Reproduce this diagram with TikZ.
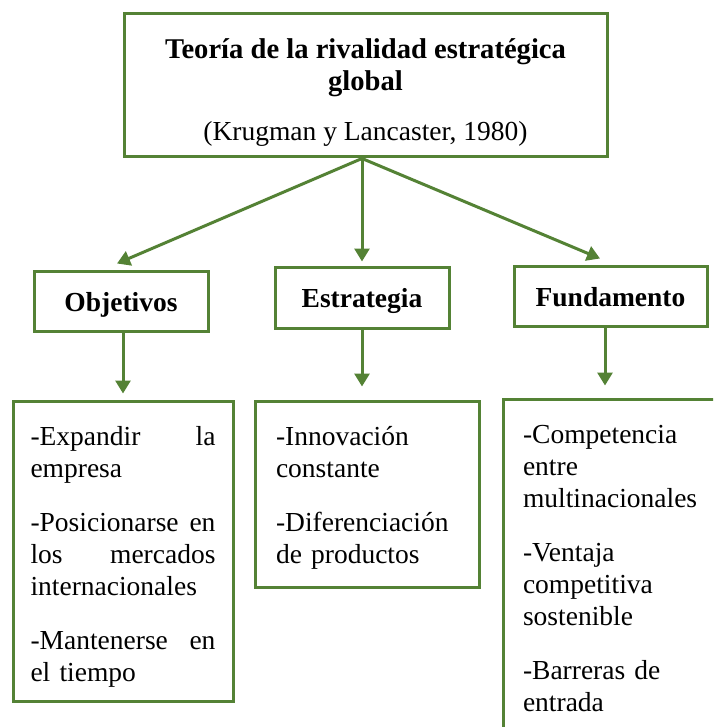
\documentclass[tikz,border=0pt]{standalone}
\usepackage{fontspec}
\setmainfont{Liberation Serif}
\usetikzlibrary{arrows.meta,positioning,calc}
\definecolor{boxgreen}{RGB}{84,130,53}
\newcommand{\fullline}[1]{\leavevmode\hbox to \hsize{#1}}
\newcommand{\titlefont}{\fontsize{14.3pt}{16pt}\selectfont\bfseries}

\begin{document}
\begin{tikzpicture}[x=0.5pt, y=-0.5pt, >={Triangle[length=6.5pt,width=7.5pt]},
  every node/.style={font=\fontsize{13.75pt}{16pt}\selectfont},
  box/.style={draw=boxgreen, line width=1.5pt, inner sep=0pt},
  title/.style={box, align=center, minimum width=241.5pt, minimum height=71.5pt},
  head/.style={box, font=\fontsize{13.75pt}{16pt}\selectfont\bfseries, minimum height=30pt, text height=11pt, text depth=1pt},
  list/.style={box, align=left, inner ysep=0pt, text height=22pt},
  link/.style={->, draw=boxgreen, line width=1.5pt}]
\useasboundingbox (0,0) rectangle (713,727);
\clip (0,0) rectangle (713,727);
\node[title] (theory) at (365.5,85.5) {\rule{0pt}{16.5pt}{\titlefont Teoría de la rivalidad estratégica}\\{\titlefont global}\\[9pt](Krugman y Lancaster, 1980)};
\node[head, minimum width=87pt] (obj) at (121,301) {Objetivos};
\node[head, minimum width=87pt, minimum height=30.5pt] (estr) at (362,297.5) {Estrategia};
\node[head, minimum width=96.5pt] (fund) at (610.5,296) {Fundamento};
\node[list, below=33.5pt of obj, xshift=1pt, text width=92.5pt, inner xsep=8.75pt, text depth=128pt] (objlist) {\fullline{-Expandir\hfill la}\\empresa\\[11pt]\fullline{-Posicionarse\hfill en}\\\fullline{los\hfill mercados}\\internacionales\\[11pt]\fullline{-Mantenerse\hfill en}\\el tiempo};
\node[list, below=35pt of estr, xshift=2.5pt, text width=91pt, inner xsep=10.5pt, text depth=71pt] (estrlist) {-Innovación\\constante\\[11pt]-Diferenciación\\de productos};
\node[list, below=35pt of fund, xshift=3.75pt, text width=95pt, inner xsep=10pt, text depth=160pt] (fundlist) {-Competencia\\entre\\multinacionales\\[11pt]-Ventaja\\competitiva\\sostenible\\[11pt]-Barreras de\\entrada};
% arrows from the theory box
\coordinate (hub) at (theory.south -| estr.north);
\draw[link] (hub) -- ($(obj.north)+(-2pt,3pt)$);
\draw[link] (hub) -- ($(estr.north)+(0,2pt)$);
\draw[link] (hub) -- ($(fund.north)+(-5.25pt,3pt)$);
% arrows down to the lists
\draw[link, shorten >=3pt] (obj.south -| objlist.north) -- (objlist.north);
\draw[link, shorten >=6.5pt] (estr.south) -- (estr.south |- estrlist.north);
\draw[link, shorten >=6pt] ($(fund.south)+(-2.75pt,0)$) -- ($(fund.south |- fundlist.north)+(-2.75pt,0)$);
\end{tikzpicture}
\end{document}
